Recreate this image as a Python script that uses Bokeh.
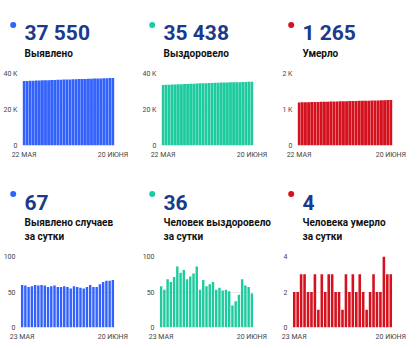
from bokeh.plotting import figure
from bokeh.models import Range1d, FixedTicker
from bokeh.layouts import column, row
from bokeh.core.properties import value
from bokeh.embed import file_html
from bokeh.resources import INLINE

# ---- data ----
dates_total = ("22 МАЯ", "20 ИЮНЯ")
dates_daily = ("23 МАЯ", "20 ИЮНЯ")

cases_total = [35839, 35899, 35958, 36015, 36073, 36133, 36192, 36252, 36311, 36368,
               36426, 36485, 36542, 36599, 36657, 36714, 36769, 36827, 36884, 36940,
               36995, 37052, 37112, 37169, 37226, 37287, 37351, 37417, 37483, 37550]
recovered_total = [33664, 33722, 33775, 33843, 33907, 33978, 34064, 34141, 34222, 34290,
                   34362, 34438, 34524, 34577, 34644, 34702, 34763, 34827, 34880, 34936,
                   34988, 35041, 35092, 35123, 35160, 35206, 35274, 35333, 35390, 35438]
deaths_total = [1196, 1198, 1200, 1203, 1206, 1208, 1210, 1213, 1214, 1217,
                1219, 1222, 1225, 1227, 1229, 1230, 1233, 1235, 1238, 1240,
                1243, 1245, 1246, 1248, 1251, 1253, 1255, 1259, 1262, 1265]

cases_daily = [60, 59, 57, 58, 60, 59, 60, 59, 57, 58, 59, 57, 57, 58, 57,
               55, 58, 57, 56, 55, 57, 60, 57, 57, 61, 64, 66, 66, 67]
recovered_daily = [58, 53, 68, 64, 71, 86, 77, 81, 68, 72, 76, 86, 53, 67, 58,
                   61, 64, 53, 56, 52, 53, 51, 31, 37, 46, 68, 59, 57, 48]
deaths_daily = [2, 2, 3, 3, 2, 2, 3, 1, 3, 2, 3, 3, 2, 2, 1,
                3, 2, 3, 2, 3, 2, 1, 2, 3, 2, 2, 4, 3, 3]

headlines_top = ["37 550", "35 438", "1 265"]
headlines_bottom = ["67", "36", "4"]
titles_top = ["Выявлено", "Выздоровело", "Умерло"]
titles_bottom_1 = ["Выявлено случаев", "Человек выздоровело", "Человека умерло"]
titles_bottom_2 = ["за сутки", "за сутки", "за сутки"]
yticks_total_cases = {0: "0", 20000: "20 K", 40000: "40 K"}
yticks_total_deaths = {0: "0", 1000: "1 K", 2000: "2 K"}
yticks_daily_cases = {0: "0", 50: "50", 100: "100"}
yticks_daily_deaths = {0: "0", 2: "2", 4: "4"}

BLUE = "#3262fb"
TEAL = "#1ecb9e"
RED = "#d4111d"
NAVY = "#1a3a8c"
FONT = "Roboto"
COLORS = [BLUE, TEAL, RED]
COL_X = [0, 139, 278]


def header(height, numbers, lines, dot_y, num_y, line_ys):
    h = figure(width=418, height=height, output_backend="svg", toolbar_location=None,
               x_range=Range1d(0, 418), y_range=Range1d(height, 0),
               x_axis_type=None, y_axis_type=None,
               min_border_left=0, min_border_right=0, min_border_top=0,
               min_border_bottom=0)
    h.outline_line_color = None
    h.xgrid.grid_line_color = None
    h.ygrid.grid_line_color = None
    h.scatter(x=[c + 12.7 for c in COL_X], y=[dot_y] * 3, size=6,
              fill_color=COLORS, line_color=None)
    h.text(x=[c + 24 for c in COL_X], y=[num_y] * 3, text=numbers,
           text_font=value(FONT), text_font_style="bold", text_font_size="21px",
           text_color=NAVY, text_baseline="alphabetic")
    for texts, ly in zip(lines, line_ys):
        h.text(x=[c + 24 for c in COL_X], y=[ly] * 3, text=texts,
               text_font=value(FONT), text_font_style="bold", text_font_size="10px",
               text_color="#111111", text_baseline="alphabetic")
    return h


def chart(width, height, bottom_b, left_b, data, color, yt, ymax, dates, bar_w):
    n = len(data)
    right_b = width - 114
    p = figure(width=width, height=height, output_backend="svg", toolbar_location=None,
               x_range=Range1d(-0.5, n - 0.5), y_range=Range1d(0, ymax),
               min_border_left=left_b, min_border_right=right_b,
               min_border_top=5, min_border_bottom=bottom_b)
    p.outline_line_color = None
    p.vbar(x=list(range(n)), top=data, width=bar_w, fill_color=color, line_color=None)

    p.xgrid.grid_line_color = None
    p.ygrid.ticker = FixedTicker(ticks=list(yt.keys()))
    p.ygrid.grid_line_color = "#ebebeb"

    p.yaxis.ticker = FixedTicker(ticks=list(yt.keys()))
    p.yaxis.major_label_overrides = yt
    p.xaxis.ticker = FixedTicker(ticks=[0, n - 1])
    p.xaxis.major_label_overrides = {0: dates[0], n - 1: dates[1]}
    for ax in (p.xaxis[0], p.yaxis[0]):
        ax.axis_line_color = None
        ax.major_tick_line_color = None
        ax.minor_tick_line_color = None
        ax.major_tick_out = 0
        ax.major_tick_in = 0
        ax.major_label_text_font = FONT
        ax.major_label_text_font_size = "7px"
        ax.major_label_text_color = "#444444"
    p.yaxis.major_label_standoff = 5
    p.xaxis.major_label_standoff = 5
    return p


h_top = header(68, headlines_top, [titles_top], 24.5, 32, [53])
h_bot = header(77, headlines_bottom, [titles_bottom_1, titles_bottom_2], 19.5, 28, [48, 62])

c1 = chart(139, 106, 29, 21, cases_total, BLUE, yticks_total_cases, 40000, dates_total, 0.92)
c2 = chart(139, 106, 29, 21, recovered_total, TEAL, yticks_total_cases, 40000, dates_total, 0.92)
c3 = chart(140, 106, 29, 19, deaths_total, RED, yticks_total_deaths, 2000, dates_total, 0.92)
c4 = chart(139, 97, 21, 19, cases_daily, BLUE, yticks_daily_cases, 100, dates_daily, 0.75)
c5 = chart(139, 97, 21, 19, recovered_daily, TEAL, yticks_daily_cases, 100, dates_daily, 0.75)
c6 = chart(140, 97, 21, 14, deaths_daily, RED, yticks_daily_deaths, 4, dates_daily, 0.75)

layout = column(h_top, row(c1, c2, c3, spacing=0), h_bot, row(c4, c5, c6, spacing=0),
                spacing=0)
open("out.html", "w").write(file_html(layout, INLINE))
